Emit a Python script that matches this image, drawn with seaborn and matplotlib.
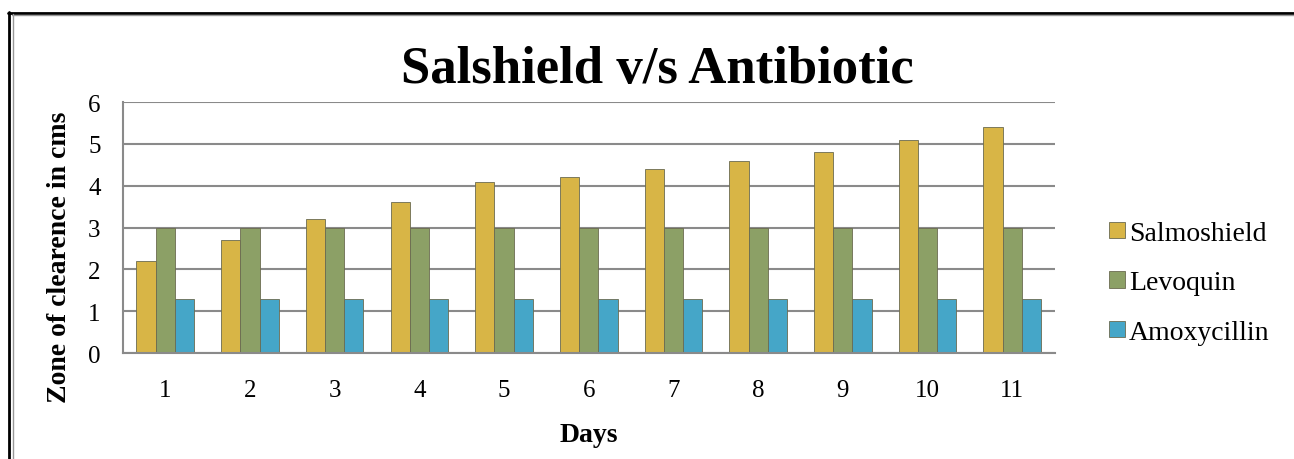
import pandas as pd
import seaborn as sns
import matplotlib.pyplot as plt
from matplotlib.lines import Line2D

days = [1, 2, 3, 4, 5, 6, 7, 8, 9, 10, 11]
salmoshield = [2.2, 2.7, 3.2, 3.6, 4.1, 4.2, 4.4, 4.6, 4.8, 5.1, 5.4]
levoquin = [3, 3, 3, 3, 3, 3, 3, 3, 3, 3, 3]
amoxycillin = [1.3, 1.3, 1.3, 1.3, 1.3, 1.3, 1.3, 1.3, 1.3, 1.3, 1.3]
series = ['Salmoshield', 'Levoquin', 'Amoxycillin']
colors = ['#D8B546', '#8CA066', '#45A6C8']

df = pd.concat([
    pd.DataFrame({'day': days, 'value': salmoshield, 'drug': 'Salmoshield'}),
    pd.DataFrame({'day': days, 'value': levoquin, 'drug': 'Levoquin'}),
    pd.DataFrame({'day': days, 'value': amoxycillin, 'drug': 'Amoxycillin'}),
])

sns.set_style('white')
plt.rcParams['font.family'] = ['Liberation Serif', 'DejaVu Serif']
plt.rcParams['text.color'] = 'black'
plt.rcParams['axes.labelcolor'] = 'black'
plt.rcParams['xtick.color'] = 'black'
plt.rcParams['ytick.color'] = 'black'

fig = plt.figure(figsize=(12.94, 4.6), dpi=100)
ax = fig.add_axes([0.095, 0.2304, 0.72, 0.5456])

sns.barplot(data=df, x='day', y='value', hue='drug', hue_order=series,
            palette=colors, width=0.68, gap=0, saturation=1,
            edgecolor='#6b6b50', linewidth=0.6, ax=ax, legend=False)

ax.set_ylim(0, 6)
ax.set_yticks(range(0, 7))
ax.yaxis.grid(True, color='#8a8a8a', linewidth=1.5)
ax.set_axisbelow(True)
for s in ['top', 'right']:
    ax.spines[s].set_visible(False)
ax.spines['left'].set_color('#8a8a8a')
ax.spines['left'].set_linewidth(1.5)
ax.spines['bottom'].set_color('#8a8a8a')
ax.spines['bottom'].set_linewidth(1.5)
ax.tick_params(axis='y', length=9, width=1.5, color='#8a8a8a', labelcolor='black',
               labelsize=18, pad=7)
ax.tick_params(axis='x', length=0, labelsize=18, pad=19)
ax.set_xlabel('Days', fontsize=20, fontweight='bold', labelpad=15, color='black')
ax.set_ylabel('')
fig.text(60 / 1294, 1 - 257 / 460, 'Zone of clearence in cms', rotation=90,
         fontsize=20, fontweight='bold', ha='center', va='center')

fig.text(657 / 1294, 1 - 83 / 460, 'Salshield v/s Antibiotic', fontsize=38,
         fontweight='bold', ha='center', va='baseline')

handles = [plt.Rectangle((0, 0), 1, 1, facecolor=c, edgecolor='#6b6b50', linewidth=0.6)
           for c in colors]
fig.legend(handles, series, loc='center left', bbox_to_anchor=(0.838, 0.383),
           frameon=False, fontsize=20, handlelength=0.55, handleheight=0.55,
           handletextpad=0.15, labelspacing=0.88)

# outer frame of the picture
fig.add_artist(Line2D([0.0062, 1], [1 - 13.5 / 460, 1 - 13.5 / 460], color='black', lw=2))
fig.add_artist(Line2D([0.0095, 1], [1 - 15.5 / 460, 1 - 15.5 / 460], color='#999999', lw=1))
fig.add_artist(Line2D([8.5 / 1294, 8.5 / 1294], [0, 1 - 13 / 460], color='black', lw=2))
fig.add_artist(Line2D([12.5 / 1294, 12.5 / 1294], [0, 1 - 15 / 460], color='#999999', lw=1))

fig.savefig('out.png', dpi=100)
